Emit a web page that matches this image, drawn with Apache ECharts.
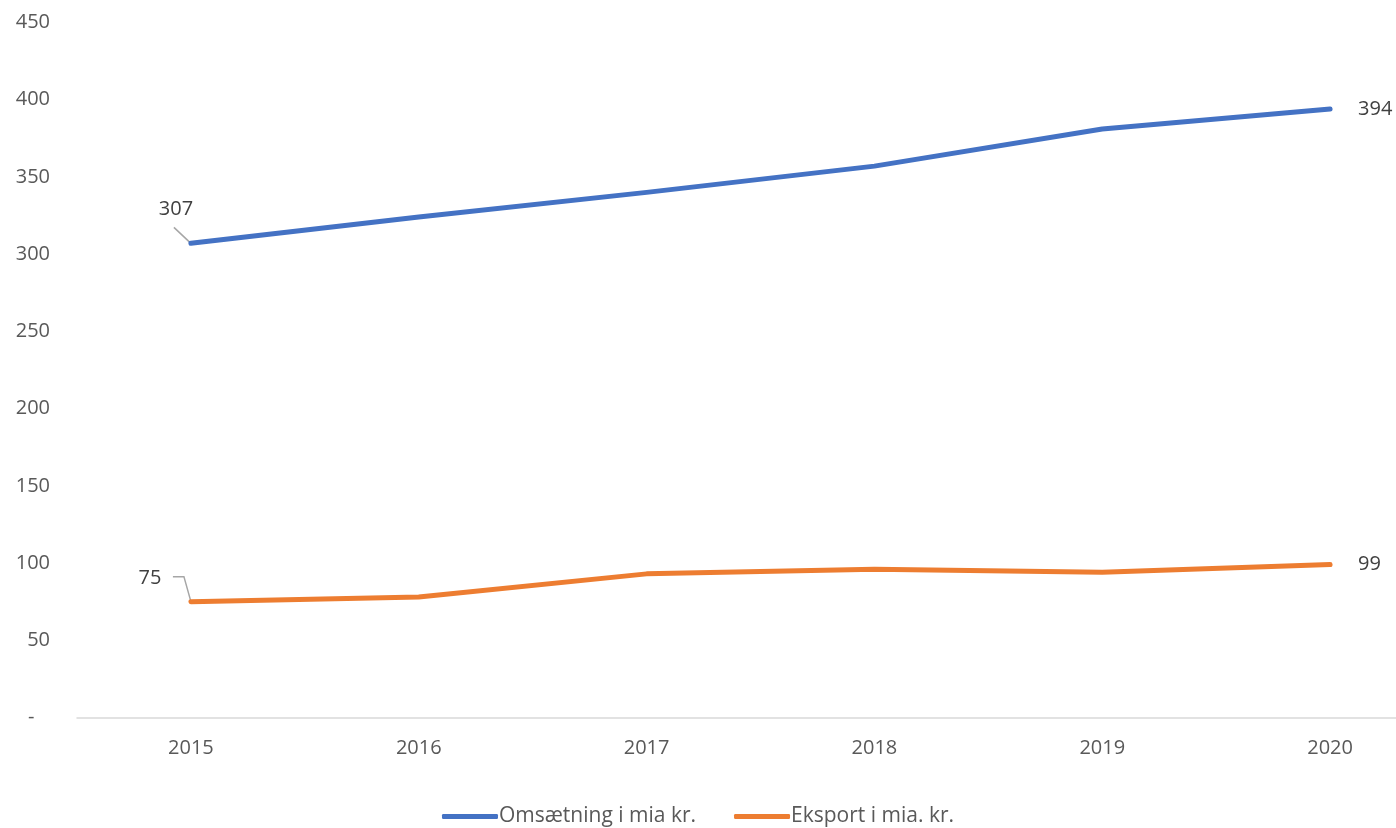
<!DOCTYPE html>
<html><head><meta charset="utf-8">
<script src="https://cdn.jsdelivr.net/npm/echarts@6/dist/echarts.min.js"></script>
<style>html,body{margin:0;padding:0;background:#fff}#c{width:1396px;height:828px}</style>
</head><body><div id="c"></div>
<script>
const years = ['2015','2016','2017','2018','2019','2020'];
const omsaetning = [307, 324, 340, 357, 381, 394];
const eksport = [75, 78, 93, 96, 94, 99];
const seriesNames = ['Omsætning i mia kr.', 'Eksport i mia. kr.'];
const yTicks = {min: 0, max: 450, interval: 50};

const FONT = '"Open Sans", "Noto Sans", sans-serif';
const chart = echarts.init(document.getElementById('c'));

// label offsets / leader-line shapes (pixel styling relative to the data point)
const firstLabelOffset = [[-15, -34], [-41, -23]];
const leaderShapes = [[[0,0],[-17,-16]], [[0,0],[-7,-25],[-18,-25]]];

const labelStyle = {fontFamily: FONT, fontSize: 20, color: '#404040'};

function labelled(arr, si){
  return arr.map((v,i)=>{
    if(i===0){
      return {value:v, label:{show:true, position:'inside', offset:firstLabelOffset[si]}};
    }
    if(i===arr.length-1){
      return {value:v, label:{show:true, position:'right', distance:28}};
    }
    return v;
  });
}

chart.setOption({
  animation:false,
  textStyle:{fontFamily:FONT},
  grid:{left:77, top:22.5, width:1367, height:695, containLabel:false, outerBoundsMode:'none'},
  legend:{
    bottom:-4, left:'center',
    icon:'roundRect', itemWidth:56, itemHeight:5, itemGap:38,
    textStyle:{fontFamily:FONT, fontSize:21, color:'#595959', padding:[0,0,0,-4]},
    data: seriesNames
  },
  xAxis:{
    type:'category', data:years, boundaryGap:true,
    axisLine:{lineStyle:{color:'#d9d9d9', width:1.5}},
    axisTick:{show:false},
    axisLabel:{fontFamily:FONT, fontSize:20, color:'#595959', margin:21}
  },
  yAxis:{
    type:'value', min:yTicks.min, max:yTicks.max, interval:yTicks.interval,
    splitLine:{show:false}, axisLine:{show:false}, axisTick:{show:false},
    axisLabel:{fontFamily:FONT, fontSize:20, color:'#595959', margin:27,
      formatter:v=> v===0 ? '-   ' : String(v)}
  },
  series:[
    {
      type:'custom', silent:true, z:1,
      data:[[0, omsaetning[0]], [0, eksport[0]]],
      renderItem:function(params, api){
        const p = api.coord([api.value(0), api.value(1)]);
        const pts = leaderShapes[params.dataIndex].map(o=>[p[0]+o[0], p[1]+o[1]]);
        return {type:'polyline', shape:{points:pts}, style:{stroke:'#a6a6a6', lineWidth:1.5, fill:null}};
      }
    },
    {
      name:seriesNames[0], type:'line', data:labelled(omsaetning,0), z:3,
      showSymbol:true, symbol:'circle', symbolSize:0,
      lineStyle:{color:'#4472C4', width:5, cap:'round', join:'round'},
      itemStyle:{color:'#4472C4'},
      label:{show:false, ...labelStyle}
    },
    {
      name:seriesNames[1], type:'line', data:labelled(eksport,1), z:3,
      showSymbol:true, symbol:'circle', symbolSize:0,
      lineStyle:{color:'#ED7D31', width:5, cap:'round', join:'round'},
      itemStyle:{color:'#ED7D31'},
      label:{show:false, ...labelStyle}
    }
  ]
});
</script></body></html>
